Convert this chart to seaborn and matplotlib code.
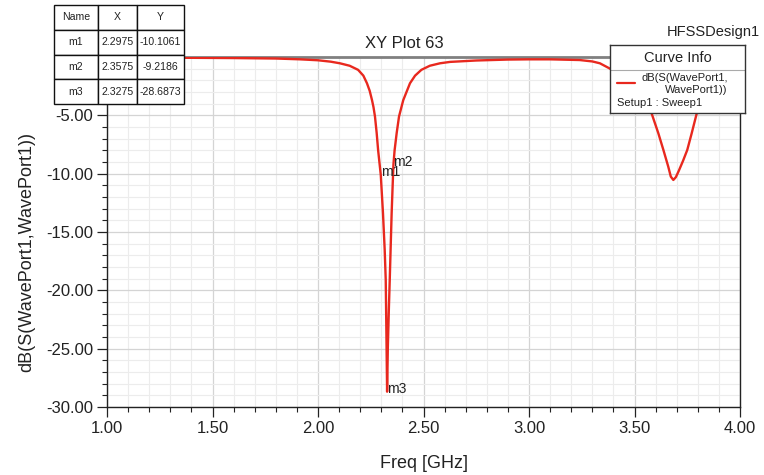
import numpy as np
import pandas as pd
import seaborn as sns
import matplotlib
matplotlib.use("Agg")
import matplotlib.pyplot as plt
from matplotlib.ticker import MultipleLocator, FormatStrFormatter

# curve (Freq in GHz, dB)
freq = [1.00, 1.20, 1.40, 1.60, 1.80, 1.915, 2.00, 2.06, 2.104, 2.15, 2.19,
        2.215, 2.232, 2.245, 2.256, 2.263, 2.27, 2.278, 2.285, 2.2975, 2.308,
        2.316, 2.321, 2.325, 2.3275, 2.331, 2.336, 2.340, 2.349, 2.353, 2.3575,
        2.363, 2.373, 2.384, 2.404, 2.436, 2.46, 2.49, 2.53, 2.578, 2.626,
        2.75, 2.90, 3.00, 3.10, 3.24, 3.30, 3.336, 3.384, 3.45, 3.52, 3.581,
        3.613, 3.637, 3.66, 3.672, 3.684, 3.696, 3.71, 3.73, 3.75, 3.771, 3.795,
        3.85, 3.90, 3.95, 4.00]
db = [-0.05, -0.06, -0.07, -0.09, -0.13, -0.2, -0.28, -0.4, -0.54, -0.75,
      -1.1, -1.6, -2.25, -2.9, -3.7, -4.3, -5.1, -6.5, -8.0, -10.1061, -13.4,
      -16.5, -19.1, -24.9, -28.6873, -24.9, -21.5, -19.1, -13.4, -11.4,
      -9.2186, -8.0, -6.5, -5.1, -3.7, -2.25, -1.6, -1.1, -0.75, -0.54, -0.42,
      -0.3, -0.22, -0.2, -0.2, -0.26, -0.38, -0.54, -1.0, -1.8, -3.0, -4.83,
      -6.54, -7.97, -9.4, -10.25, -10.54, -10.3, -9.75, -8.9, -7.97, -6.54,
      -4.83, -2.8, -1.8, -1.3, -1.0]

marker_names = ["m1", "m2", "m3"]
marker_x = [2.2975, 2.3575, 2.3275]
marker_y = [-10.1061, -9.2186, -28.6873]

x_ticks = [1.0, 1.5, 2.0, 2.5, 3.0, 3.5, 4.0]
y_ticks = [-30, -25, -20, -15, -10, -5, 0]

red = "#e8281e"
W, H = 764, 475

sns.set_style("white")
plt.rcParams["font.family"] = ["Liberation Sans", "DejaVu Sans"]

fig = plt.figure(figsize=(W / 100, H / 100), dpi=100)
ax = fig.add_axes([107 / W, 1 - 407 / H, (740 - 107) / W, (407 - 57) / H])

df = pd.DataFrame({"freq": freq, "db": db})
sns.lineplot(data=df, x="freq", y="db", ax=ax, color=red, linewidth=1.7,
             sort=False, zorder=5)

ax.set_xlim(1.0, 4.0)
ax.set_ylim(-30, 0)
ax.set_xticks(x_ticks)
ax.set_yticks(y_ticks)
ax.xaxis.set_minor_locator(MultipleLocator(0.1))
ax.yaxis.set_minor_locator(MultipleLocator(1))
ax.xaxis.set_major_formatter(FormatStrFormatter("%.2f"))
ax.yaxis.set_major_formatter(FormatStrFormatter("%.2f"))
ax.grid(which="major", color="#d4d4d4", linewidth=0.9)
ax.grid(which="minor", color="#ececec", linewidth=0.8)
ax.set_axisbelow(True)
ax.tick_params(which="major", direction="out", length=7, width=0.9,
               color="#222222", labelsize=12, labelcolor="#222222", pad=3,
               bottom=True, left=True)
ax.tick_params(which="minor", direction="out", length=3.5, width=0.8,
               color="#222222", bottom=True, left=True)
for side in ["left", "right", "bottom"]:
    ax.spines[side].set_color("#222222")
    ax.spines[side].set_linewidth(1.0)
ax.spines["top"].set_color("#808080")
ax.spines["top"].set_linewidth(2.0)

ax.set_xlabel("Freq [GHz]", fontsize=13, color="#222222", labelpad=14)
ax.set_ylabel("dB(S(WavePort1,WavePort1))", fontsize=13, color="#222222")
ax.yaxis.set_label_coords(-0.113, 0.443)

# marker labels
for name, mx, my in zip(marker_names, marker_x, marker_y):
    ax.annotate(name, (mx, my), xytext=(0, 2), textcoords="offset points",
                fontsize=10, color="#222222", ha="left", va="center", zorder=6)

fig.text(404 / W, 1 - 43 / H, "XY Plot 63", ha="center", va="center",
         fontsize=12, color="#222222")
fig.text(760 / W, 1 - 32 / H, "HFSSDesign1", ha="right", va="center",
         fontsize=10.5, color="#222222")

# marker table
tab_ax = fig.add_axes([54 / W, 1 - 104 / H, 130 / W, 99 / H], zorder=10)
tab_ax.axis("off")
cells = [[n, "%.4f" % x, "%.4f" % y] for n, x, y in zip(marker_names, marker_x, marker_y)]
table = tab_ax.table(cellText=cells, colLabels=["Name", "X", "Y"],
                     cellLoc="center", bbox=[0, 0, 1, 1],
                     colWidths=[44 / 130, 39 / 130, 47 / 130])
table.auto_set_font_size(False)
for (r, c), cell in table.get_celld().items():
    cell.set_fontsize(7.6)
    cell.set_edgecolor("#111111")
    cell.set_linewidth(1.0)
    cell.set_facecolor("white")
    cell.PAD = 0.03
    cell.get_text().set_color("#222222")

# curve info box
info = fig.add_axes([610 / W, 1 - 113 / H, 135 / W, 68 / H], zorder=10)
info.set_xlim(0, 135)
info.set_ylim(68, 0)
info.set_xticks([])
info.set_yticks([])
info.set_facecolor("white")
for s in info.spines.values():
    s.set_color("#333333")
    s.set_linewidth(1.0)
info.axhline(25, color="#aaaaaa", linewidth=0.8)
info.text(67.5, 13, "Curve Info", ha="center", va="center", fontsize=10.5,
          color="#222222")
info.plot([7, 25], [38, 38], color=red, linewidth=1.6)
info.text(32, 33, "dB(S(WavePort1,", ha="left", va="center", fontsize=8,
          color="#222222")
info.text(55, 45, "WavePort1))", ha="left", va="center", fontsize=8,
          color="#222222")
info.text(7, 58, "Setup1 : Sweep1", ha="left", va="center", fontsize=8,
          color="#222222")

fig.savefig("out.png", dpi=100)
